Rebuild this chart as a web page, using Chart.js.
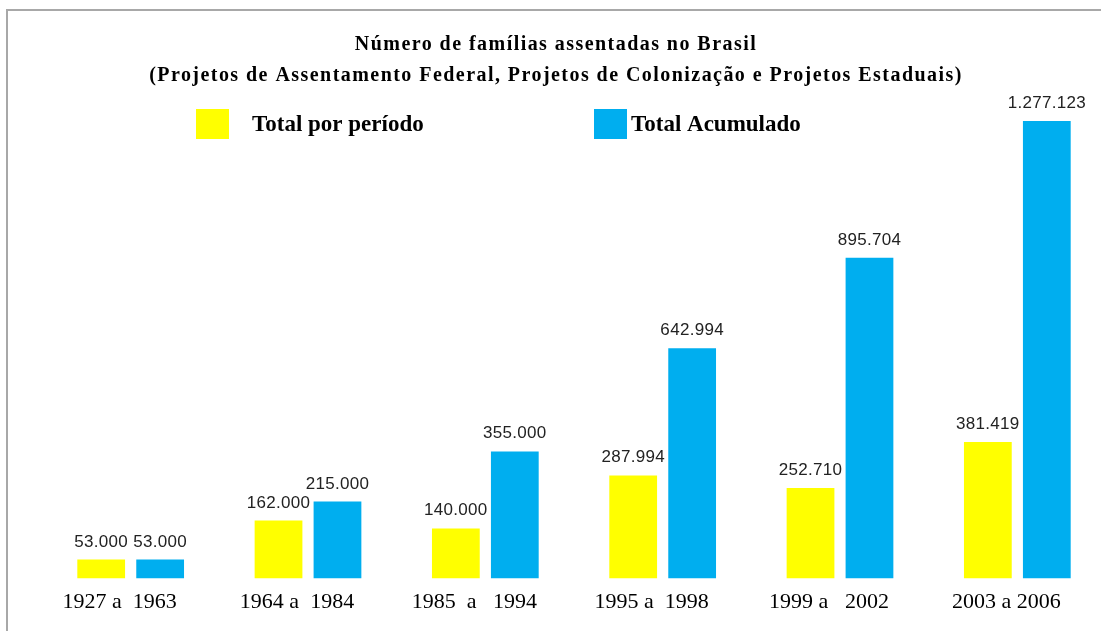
<!DOCTYPE html>
<html>
<head>
<meta charset="utf-8">
<script src="https://cdn.jsdelivr.net/npm/chart.js@4.4.1/dist/chart.umd.min.js"></script>
<style>
  html, body { margin: 0; padding: 0; background: #fff; overflow: hidden; }
  #frame {
    position: absolute; left: 6px; top: 9px; width: 1200px; height: 700px;
    border-top: 2px solid #a8a8a8; border-left: 2px solid #a8a8a8;
  }
  #wrap { position: absolute; left: 0; top: 0; width: 1110px; height: 631px; }
</style>
</head>
<body>
<div id="frame"></div>
<div id="wrap"><canvas id="myChart"></canvas></div>
<script>
// --- DATI ---
const periodos = ["1927 a  1963", "1964 a  1984", "1985  a   1994", "1995 a  1998", "1999 a   2002", "2003 a 2006"];
const totalPorPeriodo = [53000, 162000, 140000, 287994, 252710, 381419];
const totalAcumulado = [53000, 215000, 355000, 642994, 895704, 1277123];

const titulo = [
    "Número de famílias assentadas no Brasil",
    "(Projetos de Assentamento Federal, Projetos de Colonização e Projetos Estaduais)"
];

const amarelo = "#ffff00";
const azul = "#00aeef";

// formato brasileiro: 1.277.123
function formata(v) {
    return String(v).replace(/\B(?=(\d{3})+(?!\d))/g, ".");
}

// titolo, legenda e valori sopra le barre
const testoPlugin = {
    id: "testo",
    afterDraw(chart) {
        const c = chart.ctx;
        c.save();

        // titolo
        c.fillStyle = "#000";
        c.textAlign = "center";
        c.textBaseline = "alphabetic";
        c.font = 'bold 20px "Liberation Serif"';
        c.letterSpacing = "1.45px";
        c.fillText(titulo[0], 556, 50);
        c.fillText(titulo[1], 556, 81);

        // legenda
        const leg = [
            { box: 196, text: 252 },
            { box: 594, text: 631 }
        ];
        c.letterSpacing = "0px";
        chart.data.datasets.forEach((ds, i) => {
            c.fillStyle = ds.backgroundColor;
            c.fillRect(leg[i].box, 109, 33, 30);
            c.fillStyle = "#000";
            c.textAlign = "left";
            c.font = 'bold 23px "Liberation Serif"';
            c.fillText(ds.label, leg[i].text, 131);
        });

        // valori
        c.font = '17px "Liberation Sans"';
        c.letterSpacing = "0.3px";
        c.fillStyle = "#222";
        c.textAlign = "center";
        chart.data.datasets.forEach((ds, i) => {
            const meta = chart.getDatasetMeta(i);
            meta.data.forEach((bar, j) => {
                c.fillText(formata(ds.data[j]), bar.x, bar.y - 13);
            });
        });
        c.restore();
    }
};

const ctx = document.getElementById("myChart").getContext("2d");
new Chart(ctx, {
    type: "bar",
    data: {
        labels: periodos,
        datasets: [
            { label: "Total por período", data: totalPorPeriodo, backgroundColor: amarelo },
            { label: "Total Acumulado", data: totalAcumulado, backgroundColor: azul }
        ]
    },
    options: {
        responsive: true,
        maintainAspectRatio: false,
        animation: false,
        layout: { padding: { top: 77, left: 42, right: 4, bottom: 6 } },
        plugins: {
            legend: { display: false },
            title: { display: false },
            tooltip: { enabled: false }
        },
        datasets: {
            bar: { categoryPercentage: 0.665, barPercentage: 0.81 }
        },
        scales: {
            x: {
                grid: { display: false, drawTicks: false },
                border: { display: false },
                ticks: {
                    color: "#000",
                    padding: 10,
                    labelOffset: -11,
                    maxRotation: 0,
                    autoSkip: false,
                    font: { family: "Liberation Serif", size: 22 }
                }
            },
            y: {
                display: false,
                min: 0,
                max: 1400000
            }
        }
    },
    plugins: [testoPlugin]
});
</script>
</body>
</html>
